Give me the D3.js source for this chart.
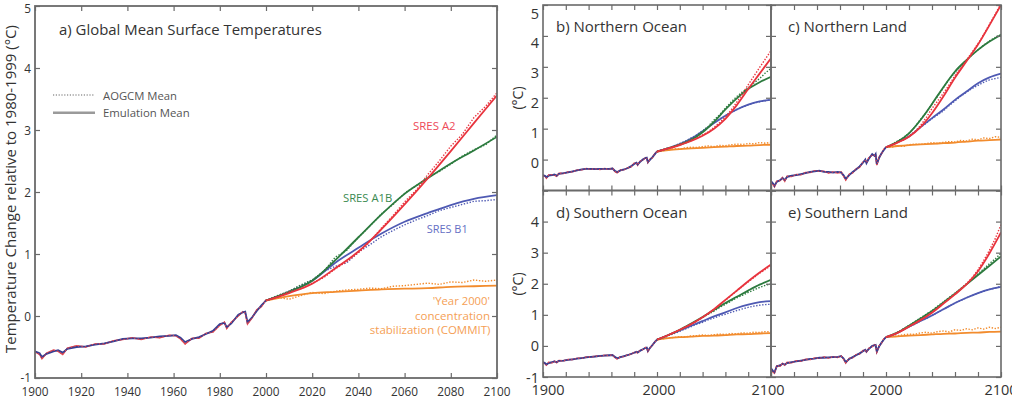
<!DOCTYPE html>
<html><head><meta charset="utf-8">
<script src="https://cdn.jsdelivr.net/npm/d3@7"></script>
<style>body{margin:0;background:#fff} svg{display:block} text{font-family:"Open Sans",sans-serif}</style>
</head><body><svg id="c" width="1012" height="405"></svg>
<script>
// ---------- data ----------
const histYears = [1900,1902,1903,1905,1908,1910,1912,1914,1918,1922,1926,1930,1934,1938,1942,1946,1950,1954,1958,1961,1963,1965,1968,1971,1974,1977,1980,1982,1983,1985,1988,1990,1991,1992,1994,1996,1998,2000];
const emYears = [2000,2010,2020,2030,2040,2050,2060,2070,2080,2090,2100];
const gcmYears = [2000,2005,2010,2015,2020,2025,2030,2035,2040,2045,2050,2055,2060,2065,2070,2075,2080,2085,2090,2095,2100];
const scenarios = ["COMMIT","B1","A1B","A2"];
const xTickYears = [1900,1920,1940,1960,1980,2000,2020,2040,2060,2080,2100];
const xLabelsLeft = [1900,2000,2100];
const xLabelsRight = [2000,2100];
const yTicks = [-1,0,1,2,3,4,5];

// a) Global
const a_hist_em  = [-0.57,-0.60,-0.66,-0.61,-0.57,-0.55,-0.59,-0.53,-0.50,-0.49,-0.46,-0.44,-0.41,-0.37,-0.36,-0.36,-0.35,-0.33,-0.32,-0.31,-0.35,-0.42,-0.37,-0.34,-0.29,-0.24,-0.13,-0.11,-0.18,-0.12,0.02,0.06,0.07,-0.10,-0.02,0.08,0.17,0.25];
const a_hist_gcm = [-0.58,-0.62,-0.69,-0.60,-0.55,-0.57,-0.62,-0.52,-0.48,-0.50,-0.45,-0.45,-0.40,-0.38,-0.35,-0.38,-0.34,-0.35,-0.31,-0.32,-0.37,-0.45,-0.36,-0.36,-0.28,-0.26,-0.15,-0.10,-0.20,-0.10,0.00,0.07,0.05,-0.13,-0.03,0.10,0.15,0.26];
const a_A2_em   = [0.25,0.37,0.52,0.77,1.04,1.40,1.80,2.22,2.66,3.11,3.56];
const a_A2_gcm  = [0.25,0.31,0.39,0.44,0.53,0.62,0.76,0.88,1.02,1.20,1.42,1.62,1.84,2.03,2.28,2.50,2.74,2.93,3.20,3.38,3.60];
const a_A1B_em  = [0.25,0.39,0.57,0.90,1.27,1.64,1.97,2.22,2.46,2.67,2.89];
const a_A1B_gcm = [0.25,0.33,0.40,0.50,0.58,0.72,0.95,1.06,1.27,1.45,1.65,1.80,1.98,2.10,2.24,2.33,2.45,2.58,2.68,2.76,2.92];
const a_B1_em   = [0.25,0.39,0.57,0.86,1.10,1.33,1.52,1.66,1.79,1.89,1.95];
const a_B1_gcm  = [0.25,0.32,0.40,0.49,0.58,0.72,0.80,0.86,1.03,1.15,1.28,1.38,1.47,1.55,1.62,1.70,1.75,1.80,1.85,1.86,1.88];
const a_COM_em  = [0.25,0.32,0.37,0.39,0.41,0.43,0.44,0.45,0.47,0.48,0.49];
const a_COM_gcm = [0.25,0.30,0.27,0.33,0.38,0.36,0.40,0.42,0.43,0.45,0.44,0.48,0.49,0.51,0.53,0.51,0.55,0.54,0.58,0.56,0.58];

// b) Northern Ocean
const b_hist_em  = [-0.50,-0.53,-0.57,-0.52,-0.50,-0.48,-0.52,-0.46,-0.44,-0.41,-0.38,-0.35,-0.32,-0.30,-0.30,-0.31,-0.30,-0.30,-0.30,-0.29,-0.36,-0.40,-0.35,-0.32,-0.28,-0.22,-0.14,-0.10,-0.16,-0.08,0.02,0.05,0.06,-0.08,0.00,0.08,0.17,0.26];
const b_hist_gcm = [-0.52,-0.55,-0.60,-0.50,-0.49,-0.50,-0.54,-0.44,-0.45,-0.40,-0.39,-0.34,-0.33,-0.29,-0.31,-0.30,-0.32,-0.29,-0.31,-0.28,-0.38,-0.43,-0.34,-0.33,-0.27,-0.24,-0.12,-0.11,-0.18,-0.06,0.00,0.06,0.04,-0.10,0.02,0.06,0.19,0.26];
const b_A2_em   = [0.26,0.36,0.47,0.60,0.77,1.00,1.32,1.76,2.28,2.78,3.28];
const b_A2_gcm  = [0.26,0.30,0.37,0.42,0.49,0.55,0.63,0.70,0.80,0.90,1.04,1.20,1.38,1.60,1.86,2.12,2.42,2.70,2.98,3.25,3.52];
const b_A1B_em  = [0.26,0.37,0.48,0.63,0.88,1.22,1.62,1.98,2.28,2.50,2.68];
const b_A1B_gcm = [0.26,0.31,0.38,0.43,0.50,0.58,0.66,0.78,0.92,1.08,1.28,1.45,1.66,1.86,2.04,2.19,2.32,2.48,2.62,2.80,2.95];
const b_B1_em   = [0.26,0.37,0.50,0.68,0.92,1.18,1.42,1.62,1.78,1.88,1.93];
const b_B1_gcm  = [0.26,0.31,0.38,0.44,0.52,0.60,0.70,0.80,0.93,1.05,1.18,1.31,1.42,1.53,1.62,1.70,1.77,1.83,1.87,1.90,1.94];
const b_COM_em  = [0.26,0.31,0.34,0.36,0.38,0.40,0.42,0.44,0.45,0.47,0.48];
const b_COM_gcm = [0.26,0.29,0.31,0.35,0.34,0.38,0.40,0.39,0.42,0.44,0.42,0.46,0.45,0.48,0.50,0.49,0.52,0.51,0.55,0.53,0.56];

// c) Northern Land
const c_hist_em  = [-0.70,-0.78,-0.85,-0.72,-0.66,-0.60,-0.66,-0.56,-0.52,-0.50,-0.47,-0.44,-0.40,-0.38,-0.36,-0.40,-0.40,-0.42,-0.40,-0.42,-0.50,-0.62,-0.50,-0.40,-0.32,-0.22,-0.10,0.00,-0.12,0.02,0.18,0.12,0.18,-0.15,0.05,0.20,0.30,0.40];
const c_hist_gcm = [-0.72,-0.82,-0.88,-0.70,-0.68,-0.58,-0.70,-0.54,-0.55,-0.48,-0.49,-0.42,-0.42,-0.36,-0.38,-0.38,-0.43,-0.40,-0.43,-0.40,-0.53,-0.66,-0.48,-0.43,-0.30,-0.25,-0.08,-0.03,-0.10,0.05,0.15,0.14,0.15,-0.18,0.08,0.18,0.33,0.40];
const c_A2_em   = [0.40,0.55,0.74,1.05,1.50,2.05,2.65,3.18,3.72,4.35,5.00];
const c_A2_gcm  = [0.40,0.47,0.56,0.63,0.76,0.90,1.10,1.36,1.65,1.90,2.15,2.42,2.72,2.95,3.22,3.48,3.75,4.05,4.38,4.70,5.05];
const c_A1B_em  = [0.40,0.58,0.85,1.28,1.80,2.35,2.85,3.22,3.55,3.82,4.03];
const c_A1B_gcm = [0.40,0.49,0.60,0.70,0.86,1.05,1.30,1.52,1.80,2.05,2.33,2.60,2.82,3.02,3.22,3.40,3.55,3.70,3.84,3.95,4.05];
const c_B1_em   = [0.40,0.56,0.75,1.05,1.34,1.62,1.93,2.20,2.47,2.66,2.78];
const c_B1_gcm  = [0.40,0.48,0.58,0.65,0.76,0.90,1.04,1.18,1.32,1.45,1.58,1.75,1.90,2.05,2.18,2.30,2.40,2.50,2.58,2.62,2.66];
const c_COM_em  = [0.40,0.44,0.47,0.49,0.51,0.53,0.55,0.58,0.61,0.63,0.65];
const c_COM_gcm = [0.40,0.40,0.45,0.42,0.48,0.50,0.49,0.52,0.55,0.52,0.56,0.58,0.57,0.62,0.60,0.66,0.64,0.70,0.68,0.74,0.72];

// d) Southern Ocean
const d_hist_em  = [-0.52,-0.56,-0.60,-0.55,-0.52,-0.50,-0.52,-0.48,-0.47,-0.45,-0.43,-0.41,-0.39,-0.37,-0.35,-0.34,-0.32,-0.31,-0.30,-0.30,-0.35,-0.40,-0.36,-0.33,-0.30,-0.26,-0.22,-0.19,-0.21,-0.16,-0.10,-0.06,-0.05,-0.16,-0.06,0.03,0.12,0.20];
const d_hist_gcm = [-0.54,-0.58,-0.62,-0.53,-0.54,-0.49,-0.54,-0.47,-0.48,-0.44,-0.44,-0.40,-0.40,-0.36,-0.36,-0.33,-0.33,-0.30,-0.31,-0.29,-0.37,-0.42,-0.35,-0.34,-0.29,-0.27,-0.21,-0.20,-0.22,-0.15,-0.11,-0.05,-0.06,-0.18,-0.05,0.02,0.13,0.20];
const d_A2_em   = [0.20,0.35,0.52,0.70,0.92,1.18,1.48,1.78,2.08,2.36,2.62];
const d_A2_gcm  = [0.20,0.27,0.34,0.43,0.51,0.60,0.70,0.80,0.92,1.04,1.17,1.32,1.47,1.62,1.77,1.92,2.06,2.20,2.34,2.46,2.58];
const d_A1B_em  = [0.20,0.35,0.52,0.72,0.93,1.16,1.38,1.58,1.78,1.97,2.13];
const d_A1B_gcm = [0.20,0.27,0.34,0.42,0.51,0.61,0.71,0.81,0.91,1.02,1.12,1.24,1.34,1.44,1.55,1.63,1.72,1.80,1.88,1.95,2.00];
const d_B1_em   = [0.20,0.35,0.50,0.65,0.80,0.95,1.08,1.22,1.33,1.41,1.44];
const d_B1_gcm  = [0.20,0.26,0.33,0.40,0.47,0.55,0.62,0.70,0.76,0.84,0.90,0.97,1.02,1.08,1.14,1.19,1.24,1.28,1.31,1.33,1.34];
const d_COM_em  = [0.20,0.25,0.28,0.30,0.32,0.33,0.35,0.37,0.38,0.40,0.41];
const d_COM_gcm = [0.20,0.23,0.26,0.27,0.30,0.29,0.32,0.33,0.35,0.34,0.36,0.38,0.37,0.40,0.39,0.42,0.41,0.44,0.43,0.46,0.45];

// e) Southern Land
const e_hist_em  = [-0.72,-0.82,-0.85,-0.66,-0.62,-0.58,-0.60,-0.55,-0.52,-0.50,-0.47,-0.45,-0.42,-0.41,-0.38,-0.38,-0.37,-0.36,-0.35,-0.33,-0.40,-0.52,-0.42,-0.36,-0.30,-0.24,-0.17,-0.12,-0.18,-0.10,0.00,0.02,0.03,-0.18,-0.02,0.10,0.20,0.28];
const e_hist_gcm = [-0.75,-0.85,-0.88,-0.64,-0.65,-0.56,-0.62,-0.53,-0.54,-0.48,-0.49,-0.43,-0.44,-0.39,-0.40,-0.36,-0.39,-0.35,-0.37,-0.32,-0.42,-0.55,-0.40,-0.38,-0.28,-0.26,-0.15,-0.14,-0.20,-0.08,-0.02,0.04,0.01,-0.20,0.00,0.08,0.22,0.28];
const e_A2_em   = [0.28,0.42,0.62,0.83,1.07,1.36,1.66,1.98,2.40,2.98,3.65];
const e_A2_gcm  = [0.28,0.35,0.43,0.52,0.62,0.72,0.84,0.95,1.08,1.22,1.38,1.52,1.68,1.84,2.00,2.20,2.45,2.75,3.08,3.45,3.90];
const e_A1B_em  = [0.28,0.43,0.65,0.88,1.12,1.40,1.68,1.98,2.28,2.58,2.88];
const e_A1B_gcm = [0.28,0.36,0.44,0.55,0.66,0.78,0.90,1.02,1.14,1.28,1.42,1.56,1.70,1.84,2.00,2.14,2.32,2.48,2.65,2.80,2.98];
const e_B1_em   = [0.28,0.42,0.62,0.80,0.98,1.18,1.38,1.55,1.70,1.82,1.90];
const e_B1_gcm  = [0.28,0.34,0.43,0.52,0.62,0.70,0.80,0.88,0.98,1.08,1.18,1.28,1.38,1.46,1.55,1.62,1.70,1.76,1.82,1.86,1.92];
const e_COM_em  = [0.28,0.31,0.33,0.35,0.37,0.39,0.40,0.42,0.43,0.45,0.46];
const e_COM_gcm = [0.28,0.30,0.33,0.36,0.38,0.37,0.42,0.44,0.41,0.46,0.48,0.45,0.52,0.50,0.55,0.52,0.58,0.54,0.60,0.56,0.60];

// ---------- drawing ----------
const svg = d3.select("#c");
const colors = {A2:"#e8343e", A1B:"#2d7b3f", B1:"#4f5ab3", COMMIT:"#f28c2e"};
const histColor = "#383f92";
const frameColor = "#6a6a6a";
const textColor = "#333";

function fit(t, w){
  const l = t.node().getComputedTextLength();
  const fs = parseFloat(t.attr("font-size"));
  t.attr("font-size", (fs*w/l).toFixed(2));
  return t;
}

const panels = [
  {id:"a", x0:35, x1:497, y0:378, y1:6, hist:[a_hist_em,a_hist_gcm],
   em:{A2:a_A2_em,A1B:a_A1B_em,B1:a_B1_em,COMMIT:a_COM_em}, gcm:{A2:a_A2_gcm,A1B:a_A1B_gcm,B1:a_B1_gcm,COMMIT:a_COM_gcm},
   title:"a) Global Mean Surface Temperatures", tx:59, ty:29, tw:263},
  {id:"b", x0:543, x1:771, y0:190.5, y1:5, hist:[b_hist_em,b_hist_gcm],
   em:{A2:b_A2_em,A1B:b_A1B_em,B1:b_B1_em,COMMIT:b_COM_em}, gcm:{A2:b_A2_gcm,A1B:b_A1B_gcm,B1:b_B1_gcm,COMMIT:b_COM_gcm},
   title:"b) Northern Ocean", tx:556, ty:26, tw:131},
  {id:"c", x0:771, x1:1001, y0:190.5, y1:5, hist:[c_hist_em,c_hist_gcm],
   em:{A2:c_A2_em,A1B:c_A1B_em,B1:c_B1_em,COMMIT:c_COM_em}, gcm:{A2:c_A2_gcm,A1B:c_A1B_gcm,B1:c_B1_gcm,COMMIT:c_COM_gcm},
   title:"c) Northern Land", tx:788, ty:26, tw:119},
  {id:"d", x0:543, x1:771, y0:377, y1:190.5, hist:[d_hist_em,d_hist_gcm],
   em:{A2:d_A2_em,A1B:d_A1B_em,B1:d_B1_em,COMMIT:d_COM_em}, gcm:{A2:d_A2_gcm,A1B:d_A1B_gcm,B1:d_B1_gcm,COMMIT:d_COM_gcm},
   title:"d) Southern Ocean", tx:556, ty:212, tw:131.5},
  {id:"e", x0:771, x1:1001, y0:377, y1:190.5, hist:[e_hist_em,e_hist_gcm],
   em:{A2:e_A2_em,A1B:e_A1B_em,B1:e_B1_em,COMMIT:e_COM_em}, gcm:{A2:e_A2_gcm,A1B:e_A1B_gcm,B1:e_B1_gcm,COMMIT:e_COM_gcm},
   title:"e) Southern Land", tx:788, ty:212, tw:120}
];

panels.forEach(p => {
  const xs = d3.scaleLinear().domain([1900,2100]).range([p.x0,p.x1]);
  const ys = d3.scaleLinear().domain([-1,5]).range([p.y0,p.y1]);
  p.xs = xs; p.ys = ys;
  const g = svg.append("g");
  g.append("clipPath").attr("id","clip"+p.id).append("rect")
    .attr("x",p.x0).attr("y",p.y1).attr("width",p.x1-p.x0).attr("height",p.y0-p.y1);
  const plot = g.append("g").attr("clip-path","url(#clip"+p.id+")");

  const lineEm = d3.line().x(d=>xs(d[0])).y(d=>ys(d[1])).curve(d3.curveMonotoneX);
  const lineG = d3.line().x(d=>xs(d[0])).y(d=>ys(d[1]));

  // historical
  plot.append("path").datum(d3.zip(histYears,p.hist[1]))
    .attr("d",lineG).attr("fill","none").attr("stroke","#e5484f").attr("stroke-width",1.5);
  plot.append("path").datum(d3.zip(histYears,p.hist[0]))
    .attr("d",lineG).attr("fill","none").attr("stroke",histColor).attr("stroke-width",1.8);
  plot.append("path").datum(d3.zip(histYears,p.hist[1]))
    .attr("d",lineG).attr("fill","none").attr("stroke","#e5484f").attr("stroke-width",1.1)
    .attr("stroke-dasharray","1.2,2.4");

  // future
  scenarios.forEach(s => {
    plot.append("path").datum(d3.zip(emYears,p.em[s]))
      .attr("d",lineEm).attr("fill","none").attr("stroke",colors[s]).attr("stroke-width",1.8);
    plot.append("path").datum(d3.zip(gcmYears,p.gcm[s]))
      .attr("d",lineG).attr("fill","none").attr("stroke",colors[s]).attr("stroke-width",1.4)
      .attr("stroke-dasharray","1.4,1.6");
  });

  // ticks (inward, all sides)
  const tk = 5;
  const styleTicks = a => { a.select(".domain").remove(); a.selectAll("line").attr("stroke",frameColor).attr("stroke-width",1.2); };
  g.append("g").attr("transform",`translate(0,${p.y0})`)
    .call(d3.axisBottom(xs).tickValues(xTickYears).tickSize(-tk).tickFormat("")).call(styleTicks);
  g.append("g").attr("transform",`translate(0,${p.y1})`)
    .call(d3.axisTop(xs).tickValues(xTickYears).tickSize(-tk).tickFormat("")).call(styleTicks);
  g.append("g").attr("transform",`translate(${p.x0},0)`)
    .call(d3.axisLeft(ys).tickValues(yTicks).tickSize(-tk).tickFormat("")).call(styleTicks);
  g.append("g").attr("transform",`translate(${p.x1},0)`)
    .call(d3.axisRight(ys).tickValues(yTicks).tickSize(-tk).tickFormat("")).call(styleTicks);

  // frame
  g.append("rect").attr("x",p.x0).attr("y",p.y1).attr("width",p.x1-p.x0).attr("height",p.y0-p.y1)
    .attr("fill","none").attr("stroke",frameColor).attr("stroke-width",p.id==="a"?1.8:1.6);

  // title
  const t = g.append("text").attr("x",p.tx).attr("y",p.ty).attr("dominant-baseline","central")
    .attr("font-size",15).attr("fill",textColor).text(p.title);
  fit(t,p.tw);
});

// ---------- tick labels ----------
const pa = panels[0];
svg.append("g").selectAll("text").data(xTickYears).join("text")
  .attr("x",d=>pa.xs(d)).attr("y",390.5).attr("text-anchor","middle").attr("dominant-baseline","central")
  .attr("font-size",11.8).attr("fill",textColor).text(d=>d);
svg.append("g").selectAll("text").data(yTicks).join("text")
  .attr("x",pa.x0-4).attr("y",d=>Math.min(Math.max(pa.ys(d),7.5),pa.y0-1)).attr("text-anchor","end").attr("dominant-baseline","central")
  .attr("font-size",11.8).attr("fill",textColor).text(d=>d);

const pd = panels[3], pe = panels[4], pb = panels[1];
svg.append("g").selectAll("text").data(xLabelsLeft).join("text")
  .attr("x",d=>pd.xs(d) + (d===1900 ? 5 : d===2100 ? -3 : 2)).attr("y",389.5)
  .attr("text-anchor","middle").attr("dominant-baseline","central")
  .attr("font-size",14.5).attr("fill",textColor).text(d=>d);
svg.append("g").selectAll("text").data(xLabelsRight).join("text")
  .attr("x",d=>pe.xs(d)).attr("y",389.5).attr("text-anchor","middle").attr("dominant-baseline","central")
  .attr("font-size",14.5).attr("fill",textColor).text(d=>d);

// y labels for b (top) and d (bottom)
svg.append("g").selectAll("text").data(yTicks.filter(v=>v>=0)).join("text")
  .attr("x",pb.x0-4).attr("y",d=>pb.ys(d)+3+d).attr("text-anchor","end").attr("dominant-baseline","central")
  .attr("font-size",14.5).attr("fill",textColor).text(d=>d);
svg.append("g").selectAll("text").data(yTicks.filter(v=>v<=4)).join("text")
  .attr("x",pd.x0-4).attr("y",d=>pd.ys(d)).attr("text-anchor","end").attr("dominant-baseline","central")
  .attr("font-size",14.5).attr("fill",textColor).text(d=>d);

// unit labels
[[517,98],[517,284]].forEach(([x,y])=>{
  svg.append("text").attr("transform",`translate(${x},${y}) rotate(-90)`).attr("text-anchor","middle")
    .attr("dominant-baseline","central").attr("font-size",14).attr("fill",textColor).text("(°C)");
});

// y axis title for a
const yt = svg.append("text").attr("transform","translate(10,189) rotate(-90)").attr("text-anchor","middle")
  .attr("dominant-baseline","central").attr("font-size",15).attr("fill",textColor)
  .text("Temperature Change relative to 1980-1999 (°C)");
fit(yt,328);

// legend
svg.append("line").attr("x1",53).attr("x2",95).attr("y1",95).attr("y2",95)
  .attr("stroke","#666").attr("stroke-width",1.1).attr("stroke-dasharray","1.2,1.6");
svg.append("line").attr("x1",53).attr("x2",95).attr("y1",112.7).attr("y2",112.7)
  .attr("stroke","#9a9a9a").attr("stroke-width",2.4);
fit(svg.append("text").attr("x",103).attr("y",95).attr("dominant-baseline","central")
  .attr("font-size",11).attr("fill","#555").text("AOGCM Mean"),74);
fit(svg.append("text").attr("x",103).attr("y",112.7).attr("dominant-baseline","central")
  .attr("font-size",11).attr("fill","#555").text("Emulation Mean"),86.7);

// scenario labels
const scenLabels = [
  {t:"SRES A2", x:413, y:125.7, w:42.7, c:"#ee4a58", a:"start"},
  {t:"SRES A1B", x:343, y:197, w:49.3, c:"#3a8a50", a:"start"},
  {t:"SRES B1", x:426.7, y:228.7, w:41, c:"#6670c4", a:"start"},
  {t:"'Year 2000'", x:490, y:300.5, w:57.3, c:"#f5a055", a:"end"},
  {t:"concentration", x:490, y:315, w:75, c:"#f5a055", a:"end"},
  {t:"stabilization (COMMIT)", x:490.5, y:329.5, w:120.7, c:"#f5a055", a:"end"}
];
scenLabels.forEach(s=>{
  fit(svg.append("text").attr("x",s.x).attr("y",s.y).attr("text-anchor",s.a).attr("dominant-baseline","central")
    .attr("font-size",11).attr("fill",s.c).text(s.t), s.w);
});
</script></body></html>
